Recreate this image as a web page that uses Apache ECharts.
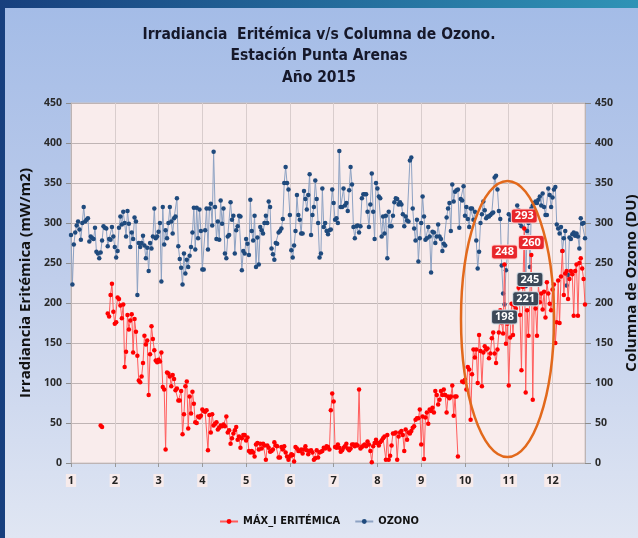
<!DOCTYPE html>
<html>
<head>
<meta charset="utf-8">
<script src="https://cdn.jsdelivr.net/npm/echarts@6/dist/echarts.min.js"></script>
<style>
html, body { margin: 0; padding: 0; }
#frame { position: relative; width: 638px; height: 538px; background: linear-gradient(90deg, #173f7e, #2f93b6); overflow: hidden; }
#panel { position: absolute; left: 5px; top: 8px; width: 633px; height: 530px; background: linear-gradient(180deg, #a4bce7 0%, #bccbea 45%, #e0e6f3 100%); }
#chart { position: absolute; left: 0; top: 0; width: 638px; height: 538px; }
</style>
</head>
<body>
<div id="frame">
  <div id="panel"></div>
  <div id="chart"></div>
</div>
<script>
// etiquetas del eje x: una cada 31 días
const monthTicks = ['1', '2', '3', '4', '5', '6', '7', '8', '9', '10', '11', '12'];
const tickEvery = 31;

// irradiancia eritémica máxima diaria (mW/m2), una fila por tramo de 31 días
const irradiance = [
  null, null, null, null, null, null, null, null, null, null, null, null, null, null, null, null, null, null, null, null, null, 47, 45, null, null, null, 187, 183, 210, 224, 189,
  174, 176, 207, 205, 197, 181, 198, 120, 139, 185, 167, 178, 186, 138, 180, 164, 134, 103, 101, 108, 125, 159, 148, 153, 85, 136, 171, 155, 141, 128, 126,
  129, 127, 138, 95, 92, 17, 113, 112, 108, 96, 110, 105, 91, 93, 78, 78, 90, 36, 61, 96, 102, 43, 83, 62, 89, 74, 51, 50, 58, 57, 59,
  67, 65, 64, 66, 16, 60, 38, 61, 47, 49, 51, 42, 44, 47, 46, 48, 46, 58, 38, 41, 24, 31, 37, 41, 45, 29, 33, 19, 31, 35, 35,
  28, 32, 15, 13, 15, 13, 8, 23, 25, 17, 24, 18, 24, 22, 4, 22, 19, 14, 15, 17, 26, 22, 21, 7, 7, 20, 17, 21, 13, 8, 4,
  8, 11, 10, 2, 20, 18, 15, 15, 17, 12, 17, 21, 16, 11, 15, 16, 13, 4, 6, 16, 7, 13, 14, 15, 19, 18, 21, 20, 17, 66, 87,
  77, 20, 19, 23, 19, 14, 16, 19, 21, 24, 18, 16, 18, 23, 23, 21, 23, 22, 92, 18, 20, 22, 23, 21, 27, 23, 15, 1, 21, 25, 29,
  25, 22, 26, 28, 31, 33, 4, 35, 4, 9, 22, 37, 37, 38, 4, 33, 38, 40, 35, 15, 42, 29, 38, 37, 40, 44, 46, 54, 56, 56, 67,
  23, 58, 5, 57, 63, 49, 67, 65, 69, 63, 90, 85, 73, 79, 90, 85, 92, 85, 63, 83, 81, 83, 97, 59, 83, 83, 8, null, null, 102, 101,
  104, 92, 120, 117, 54, 111, 142, 132, 142, 100, 160, 140, 96, 138, 146, 142, 143, 131, 137, 156, 163, 137, 125, 142, 163, 191, 175, 162, 248, 149, 174,
  97, 157, 199, 160, 197, 193, 208, 219, 185, 116, 220, 293, 88, 191, 159, 212, 260, 79, 201, 193, 159, 224, 201, 212, 192, 214, 182, 226, 212, 199, 191,
  217, 223, 150, 176, 228, 175, 233, 265, 210, 237, 240, 205, 230, 240, 236, 184, 240, 248, 184, 250, 256, 243, 230, 198
];

// columna de ozono diaria (DU)
const ozone = [
  285, 223, 273, 288, 297, 302, 292, 279, 300, 320, 302, 304, 306, 277, 283, 281, 280, 294, 264, 262, 256, 263, 278, 296, 294, 293, 271, 280, 279, 295, 283,
  270, 257, 265, 294, 308, 298, 314, 300, 283, 315, 299, 270, 288, 280, 307, 302, 210, 275, 270, 275, 284, 272, 256, 269, 240, 275, 268, 283, 318, 281, 283,
  289, 300, 227, 320, 273, 291, 281, 300, 320, 302, 287, 306, 308, 331, 271, 255, 244, 223, 262, 237, 254, 245, 259, 270, 288, 319, 267, 319, 281, 317, 290,
  242, 242, 291, 318, 267, 318, 324, 297, 389, 320, 280, 302, 279, 328, 299, 318, 262, 256, 283, 285, 326, 304, 309, 262, 291, 296, 309, 308, 241, 265, 262,
  280, 274, 260, 329, 290, 278, 309, 245, 282, 248, 295, 291, 287, 300, 309, 300, 327, 320, 268, 261, 254, 275, 274, 288, 290, 293, 305, 350, 370, 350, 342,
  310, 266, 257, 272, 290, 335, 310, 304, 287, 287, 340, 330, 317, 335, 361, 285, 310, 320, 353, 330, 300, 257, 262, 343, 295, 300, 290, 286, 291, 292, 342,
  325, 304, 306, 300, 390, 320, 320, 343, 322, 325, 315, 341, 370, 348, 295, 281, 296, 297, 288, 296, 331, 336, 336, 336, 314, 295, 323, 362, 314, 280, 350,
  343, 333, 331, 283, 308, 287, 309, 256, 314, 296, 296, 309, 326, 331, 330, 323, 326, 323, 311, 296, 308, 303, 302, 378, 382, 318, 293, 278, 304, 252, 281,
  300, 333, 308, 279, 281, 295, 283, 238, 289, 288, 275, 283, 298, 283, 280, 265, 274, 272, 307, 318, 325, 290, 348, 327, 339, 341, 342, 294, 330, 328, 346,
  309, 320, 305, 295, 318, 318, 304, 314, 278, 243, 264, 300, 311, 327, 316, 306, 308, 308, 310, 312, 313, 357, 359, 342, 315, 305, 247, 212, 198, 241, 258,
  311, 304, 308, 304, 312, 306, 322, 316, 300, 296, 306, 313, 221, 290, 300, 245, 318, 322, 325, 327, 325, 329, 333, 322, 337, 320, 310, 310, 343, 335, 320,
  332, 342, 345, 298, 293, 287, 295, 265, 281, 290, 222, 235, 282, 280, 286, 288, 284, 287, 283, 268, 306, 299, 300, 281
];

// días (categorías del eje x)
const days = irradiance.map((v, i) => String(i + 1));

// puntos destacados con etiqueta (índice del día)
const irradianceLabelDays = [307, 321, 326];
const ozoneLabelDays = [307, 322, 325];

const narrow = "'Liberation Sans Narrow', 'DejaVu Sans Condensed', sans-serif";

// etiquetas como markPoint para que queden sobre ambas series
const makeMarks = (labelDays, values, bg, border, pos) => ({
  z: 20,
  symbol: 'circle',
  symbolSize: 2,
  itemStyle: { color: 'transparent' },
  silent: true,
  label: {
    show: true, position: pos, distance: 5, formatter: '{c}',
    color: '#fff', fontWeight: 'bold', fontSize: 11, fontFamily: 'Open Sans',
    backgroundColor: bg, borderColor: border, borderWidth: 1, borderRadius: 2, padding: [1, 3]
  },
  data: labelDays.map(d => ({ coord: [d, values[d]], value: values[d] }))
});

const chart = echarts.init(document.getElementById('chart'));

const option = {
  animation: false,
  title: {
    text: 'Irradiancia  Eritémica v/s Columna de Ozono.\nEstación Punta Arenas\nAño 2015',
    left: 'center',
    top: 19,
    textStyle: { fontFamily: narrow, fontSize: 15.5, fontWeight: 'bold', lineHeight: 21.5, color: '#16182a' }
  },
  legend: {
    bottom: 6,
    left: 'center',
    itemWidth: 18,
    itemHeight: 6,
    itemGap: 14,
    textStyle: { fontFamily: narrow, fontWeight: 'bold', fontSize: 11, color: '#111' },
    data: ['MÁX_I ERITÉMICA', 'OZONO']
  },
  grid: {
    left: 71, right: 53, top: 103, bottom: 75,
    outerBoundsMode: 'none',
    show: true, backgroundColor: '#f9ecec', borderColor: '#cfc6c6', borderWidth: 1
  },
  xAxis: {
    type: 'category',
    data: days,
    boundaryGap: false,
    axisLine: { show: true, lineStyle: { color: '#bdb4b4' } },
    axisTick: { show: true, interval: tickEvery - 1, length: 4, lineStyle: { color: '#999' } },
    axisLabel: {
      interval: tickEvery - 1,
      formatter: (v, i) => monthTicks[Math.round(i / tickEvery)],
      margin: 11, fontSize: 11, fontWeight: 'bold', fontFamily: 'Open Sans', color: '#222',
      backgroundColor: '#f7ebeb', padding: [1, 2]
    },
    splitLine: { show: true, interval: tickEvery - 1, lineStyle: { color: '#d9cdcd' } }
  },
  yAxis: [
    {
      type: 'value', min: 0, max: 450, interval: 50,
      name: 'Irradiancia Eritémica (mW/m2)', nameLocation: 'middle', nameRotate: 90, nameGap: 28,
      nameTextStyle: { fontFamily: 'Open Sans', fontSize: 15, fontWeight: 'bold', color: '#111' },
      axisLine: { show: true, lineStyle: { color: '#bdb4b4' } },
      axisTick: { show: true, length: 5, lineStyle: { color: '#8c8c8c' } },
      axisLabel: { fontFamily: 'Open Sans', fontSize: 10.5, fontWeight: 'bold', color: '#2a2a2a', margin: 9 },
      splitLine: { lineStyle: { color: '#bfb4b4' } }
    },
    {
      type: 'value', min: 0, max: 450, interval: 50, position: 'right',
      name: 'Columna de Ozono (DU)', nameLocation: 'middle', nameRotate: 90, nameGap: 33,
      nameTextStyle: { fontFamily: 'Open Sans', fontSize: 15, fontWeight: 'bold', color: '#111' },
      axisLine: { show: true, lineStyle: { color: '#bdb4b4' } },
      axisTick: { show: true, length: 6, lineStyle: { color: '#8c8c8c' } },
      axisLabel: { fontFamily: 'Open Sans', fontSize: 10.5, fontWeight: 'bold', color: '#2a2a2a', margin: 10 },
      splitLine: { show: false }
    }
  ],
  series: [
    {
      name: 'MÁX_I ERITÉMICA',
      type: 'line',
      yAxisIndex: 0,
      data: irradiance.map(v => (v === null ? '-' : v)),
      symbol: 'circle',
      symbolSize: 4.5,
      showAllSymbol: true,
      connectNulls: false,
      itemStyle: { color: '#ff0000' },
      lineStyle: { color: '#ff5c5c', width: 1 },
      markPoint: makeMarks(irradianceLabelDays, irradiance, '#e8262b', '#ffd0d0', 'top'),
      z: 5
    },
    {
      name: 'OZONO',
      type: 'line',
      yAxisIndex: 1,
      data: ozone,
      symbol: 'circle',
      symbolSize: 4.5,
      showAllSymbol: true,
      itemStyle: { color: '#1f4a7d' },
      lineStyle: { color: '#8da2c3', width: 1 },
      markPoint: makeMarks(ozoneLabelDays, ozone, '#3b4858', '#d0d8e0', 'bottom'),
      z: 4
    }
  ],
  graphic: [
    {
      type: 'ellipse',
      shape: { cx: 507.5, cy: 319, rx: 46.5, ry: 138 },
      style: { fill: null, stroke: '#e2691c', lineWidth: 2.5 },
      silent: true,
      z: 100
    }
  ]
};

chart.setOption(option);
</script>
</body>
</html>
